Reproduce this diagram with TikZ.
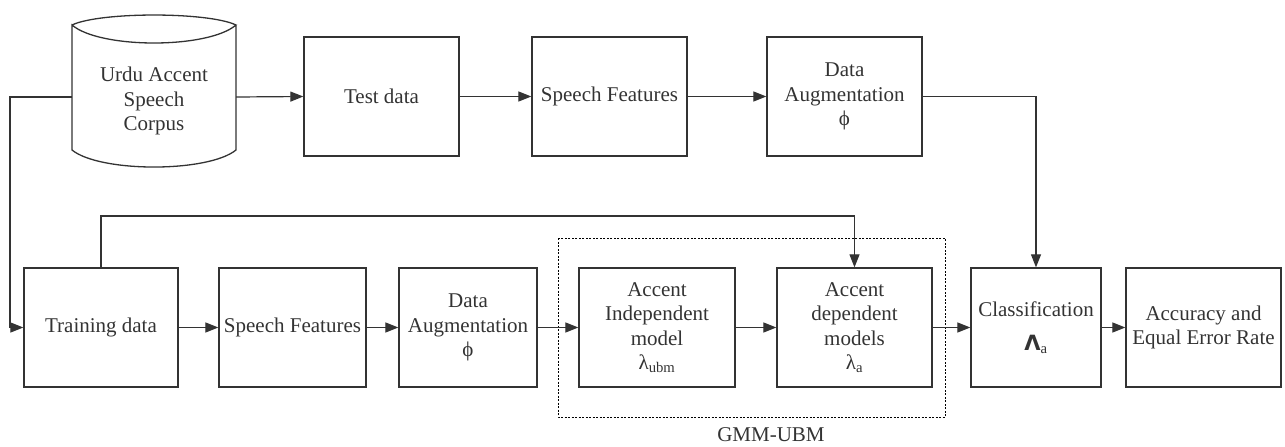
\documentclass[tikz,border=0pt]{standalone}
\usepackage{fontspec}
\setmainfont{Liberation Serif}
\usetikzlibrary{arrows.meta}
\definecolor{ln}{HTML}{333333}
\definecolor{tx}{HTML}{333333}
\begin{document}
\begin{tikzpicture}[x=1pt,y=-1pt,
  box/.style={draw=ln, line width=1.3pt, align=center, inner sep=0pt, text=tx,
    font=\fontsize{21}{24.5}\selectfont, minimum height=119pt},
  arr/.style={draw=ln, line width=1.2pt, -{Triangle[length=13pt,width=10pt]}},
  gmmbox/.style={draw=black, line width=1pt, dash pattern=on 2pt off 1.5pt},
  lbl/.style={text=tx, font=\fontsize{21}{24.5}\selectfont, inner sep=0pt}]
\useasboundingbox (0,0) rectangle (1285,447);

% cylinder-like corpus
\draw[draw=ln, line width=1.3pt] (72,25) .. controls (100,11.7) and (208,11.7) .. (236,25)
  .. controls (208,49) and (100,49) .. (72,25) -- (72,150)
  .. controls (100,172.7) and (208,172.7) .. (236,150) -- (236,25);
\node[lbl, align=center, minimum width=164pt, minimum height=120pt] (corpus) at (154,97) {};
\node[lbl, align=center] (corpustext) at (154,101) {Urdu Accent\\Speech\\Corpus};

% top row
\node[box, minimum width=155pt] (test) at (381.5,96.5) {Test data};
\node[box, minimum width=155pt] (sf1) at (609.5,96.5) {Speech Features};
\node[box, minimum width=155pt] (da1) at (844.5,96.5) {Data\\Augmentation\\ϕ};

% bottom row
\node[box, minimum width=154pt] (train) at (101,327.5) {Training data};
\node[box, minimum width=147pt] (sf2) at (292.5,327.5) {Speech Features};
\node[box, minimum width=138pt] (da2) at (468,327.5) {Data\\Augmentation\\ϕ};
\node[box, minimum width=156pt] (ai) at (657,327.5) {Accent\\Independent\\model\\λ\textsubscript{ubm}};
\node[box, minimum width=155pt] (ad) at (854.5,327.5) {Accent\\dependent\\models\\λ\textsubscript{a}};
\node[box, minimum width=130pt] (cls) at (1036,327.5) {Classification\\[10pt]{\bfseries\fontspec{DejaVu Sans}Λ}\textsubscript{a}};
\node[box, minimum width=155pt] (acc) at (1203.5,327.5) {Accuracy and\\Equal Error Rate};

% GMM-UBM group
\draw[gmmbox] (558,238) rectangle (945,417);
\node[lbl] (gmm) at (771,435) {GMM-UBM};

% connectors
\coordinate (lft) at (10,97);
\coordinate (up) at (101,216);
\draw[arr] (corpus.east) -- (test.west);
\draw[arr] (test) -- (sf1);
\draw[arr] (sf1) -- (da1);
\draw[arr] (corpus.west) -- (lft) |- (train.west);
\draw[arr] (da1.east) -| (cls.north);
\draw[arr] (train) -- (sf2);
\draw[arr] (sf2) -- (da2);
\draw[arr] (da2) -- (ai);
\draw[arr] (ai) -- (ad);
\draw[arr] (ad) -- (cls);
\draw[arr] (cls) -- (acc);
\draw[arr] (train.north) -- (up) -| (ad.north);
\end{tikzpicture}
\end{document}
